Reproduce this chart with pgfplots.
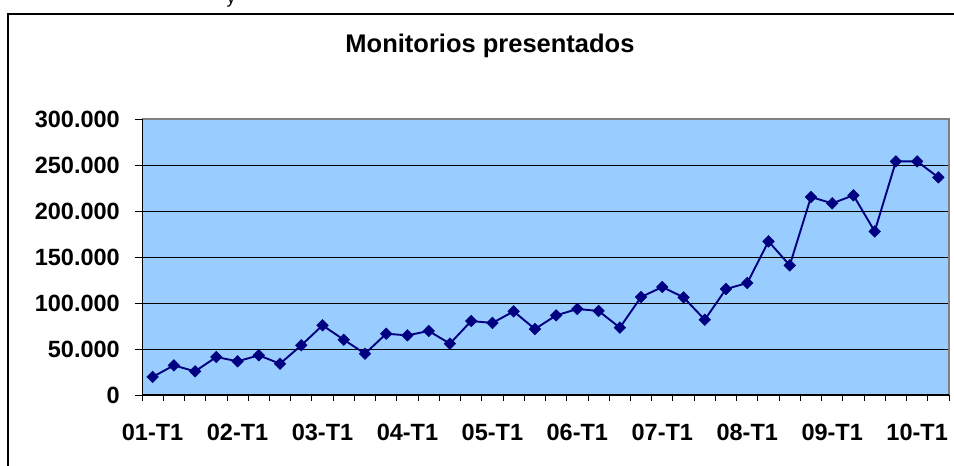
\documentclass[border=0pt]{standalone}
\usepackage{pgfplots}
\pgfplotsset{compat=1.18}
\usepackage{fontspec}
\setmainfont{Liberation Sans}
\definecolor{plotbg}{HTML}{99CCFF}
\definecolor{navy}{HTML}{000080}
\begin{document}
\begin{tikzpicture}[x=1bp,y=1bp]
\path[use as bounding box] (0,0) rectangle (954,466);
% outer chart frame (extends beyond picture at right and bottom)
\draw[line width=2bp] (8,-10) -- (8,452) -- (970,452);
\node[anchor=base,font=\fontsize{18bp}{20bp}\selectfont] at (231,462) {y};
\node[anchor=base,font=\fontsize{25.5bp}{28bp}\selectfont\bfseries] at (490,413) {Monitorios presentados};
\begin{axis}[
  at={(142bp,71bp)}, anchor=south west,
  width=807bp, height=276bp, scale only axis,
  xmin=-0.5, xmax=37.5, ymin=0, ymax=300000,
  scaled y ticks=false,
  axis background/.style={fill=plotbg},
  axis line style={draw=none},
  ymajorgrids, grid style={black, line width=0.9bp},
  xtick pos=bottom, ytick pos=left,
  xtick={0,4,...,36},
  xticklabels={01-T1,02-T1,03-T1,04-T1,05-T1,06-T1,07-T1,08-T1,09-T1,10-T1},
  minor xtick={-0.5,0.5,...,37.5},
  ytick={0,50000,100000,150000,200000,250000,300000},
  yticklabels={0,50.000,100.000,150.000,200.000,250.000,300.000},
  tick align=outside,
  major x tick style={draw=none},
  minor tick length=6bp, major tick length=7bp,
  tick style={black, line width=0.9bp},
  xticklabel style={font=\fontsize{23.5bp}{25bp}\selectfont\bfseries, anchor=north, inner sep=0pt, yshift=-22bp},
  yticklabel style={font=\fontsize{23.5bp}{25bp}\selectfont\bfseries, anchor=east, inner sep=0pt, xshift=-15bp},
  clip=false,
]
\addplot[color=navy, line width=1.9bp, mark=square*, mark size=4.1bp, mark options={rotate=45, fill=navy, draw=navy, line width=0.5bp}] coordinates {
(0,19600) (1,32200) (2,25700) (3,41300) (4,36600) (5,43100) (6,34000) (7,54000)
(8,75700) (9,60100) (10,44900) (11,66600) (12,64800) (13,69600) (14,55800) (15,80400)
(16,78300) (17,90900) (18,71700) (19,86500) (20,93500) (21,91300) (22,73200) (23,106500)
(24,117400) (25,106100) (26,81800) (27,115200) (28,121700) (29,167000) (30,140900) (31,215200)
(32,208300) (33,217000) (34,177800) (35,253900) (36,253900) (37,236500)
};
\draw[gray, line width=2bp] (rel axis cs:0,1) -- (rel axis cs:1,1) -- (rel axis cs:1,0);
\draw[black, line width=1bp] (rel axis cs:0,1) -- (rel axis cs:0,0) -- (rel axis cs:1,0);
\end{axis}
\end{tikzpicture}
\end{document}
